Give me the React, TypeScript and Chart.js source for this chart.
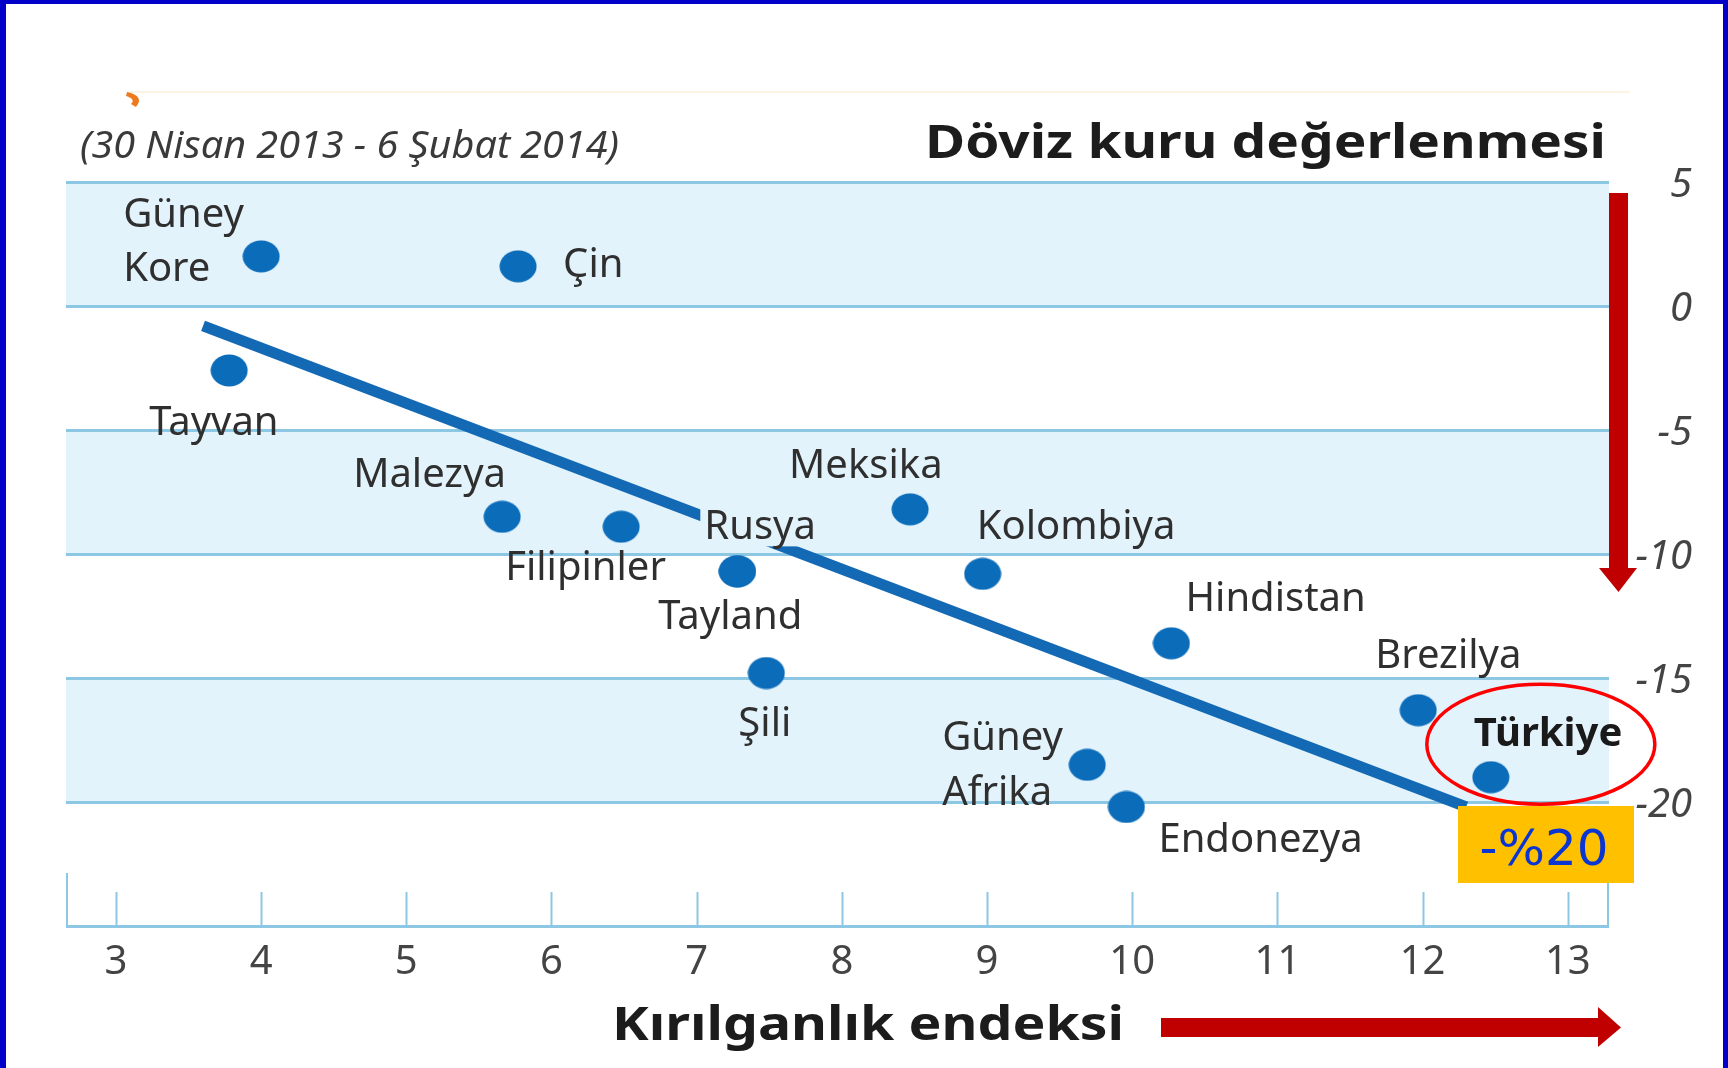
import React, { useEffect, useRef } from 'react';
import { Chart, registerables } from 'chart.js';

Chart.register(...registerables);

// ---------------- DATA ----------------
const countries = [
  'Güney Kore', 'Çin', 'Tayvan', 'Malezya', 'Filipinler', 'Rusya', 'Tayland', 'Şili',
  'Meksika', 'Kolombiya', 'Hindistan', 'Brezilya', 'Türkiye', 'Güney Afrika', 'Endonezya',
];
// Kırılganlık endeksi (x)
const vulnerabilityIndex = [4.0, 5.77, 3.78, 5.66, 6.48, 7.28, 7.28, 7.48, 8.47, 8.97, 10.27, 11.97, 12.47, 9.69, 9.96];
// Döviz kuru değerlenmesi, % (y)
const currencyChange = [2.0, 1.6, -2.6, -8.5, -8.9, -10.7, -10.7, -14.8, -8.2, -10.8, -13.6, -16.3, -19.0, -18.5, -20.2];

const trendX = [3.6, 12.3];
const trendY = [-0.8, -20.2];

const xTicks = [3, 4, 5, 6, 7, 8, 9, 10, 11, 12, 13];
const yTicks = [5, 0, -5, -10, -15, -20, -25];

const titleText = 'Döviz kuru değerlenmesi';
const subtitleText = '(30 Nisan 2013 - 6 Şubat 2014)';
const xTitleText = 'Kırılganlık endeksi';
const highlightCountry = 'Türkiye';
const highlightText = '-%20';

// ---------------- STYLE / LAYOUT ----------------
const W = 1728;
const H = 1068;
const X_MIN = 2.656;
const X_MAX = 13.284;
const Y_MIN = -25;
const Y_MAX = 5;

const BAND = '#e3f3fb';
const GRID = '#8cc8e4';
const POINT = '#0b6cb9';
const TREND = '#1469b4';
const TEXT = '#2f2f2f';
const RED = '#c00000';
const FONT = '"Noto Sans", "Open Sans", sans-serif';

// label placement relative to each point's pixel position
const labelLayout: Record<string, { lines: string[]; dx: number; dy: number; gap?: number; bold?: boolean; patch?: boolean }> = {
  'Güney Kore': { lines: ['Güney', 'Kore'], dx: -138, dy: -29, gap: 54 },
  'Çin': { lines: ['Çin'], dx: 45, dy: 11 },
  'Tayvan': { lines: ['Tayvan'], dx: -80, dy: 65 },
  'Malezya': { lines: ['Malezya'], dx: -149, dy: -30 },
  'Filipinler': { lines: ['Filipinler'], dx: -116, dy: 53 },
  'Rusya': { lines: ['Rusya'], dx: -33, dy: -32, patch: true },
  'Tayland': { lines: ['Tayland'], dx: -79, dy: 58 },
  'Şili': { lines: ['Şili'], dx: -28, dy: 63 },
  'Meksika': { lines: ['Meksika'], dx: -121, dy: -31 },
  'Kolombiya': { lines: ['Kolombiya'], dx: -6, dy: -35 },
  'Hindistan': { lines: ['Hindistan'], dx: 14, dy: -32 },
  'Brezilya': { lines: ['Brezilya'], dx: -43, dy: -42 },
  'Türkiye': { lines: ['Türkiye'], dx: -17, dy: -31, bold: true },
  'Güney Afrika': { lines: ['Güney', 'Afrika'], dx: -145, dy: -15, gap: 55 },
  'Endonezya': { lines: ['Endonezya'], dx: 32, dy: 45 },
};

function drawText(
  ctx: CanvasRenderingContext2D, text: string, x: number, y: number, font: string,
  color: string, align: CanvasTextAlign = 'left', targetWidth?: number,
) {
  ctx.save();
  ctx.font = font;
  ctx.fillStyle = color;
  ctx.textBaseline = 'alphabetic';
  ctx.textAlign = align;
  const w = ctx.measureText(text).width;
  const sx = targetWidth ? targetWidth / w : 1;
  ctx.translate(x, y);
  ctx.scale(sx, 1);
  ctx.fillText(text, 0, 0);
  ctx.restore();
}

function makeDot(): HTMLCanvasElement {
  const c = document.createElement('canvas');
  c.width = 38;
  c.height = 33;
  const g = c.getContext('2d')!;
  g.fillStyle = POINT;
  g.beginPath();
  g.ellipse(19, 16.5, 18.5, 16, 0, 0, Math.PI * 2);
  g.fill();
  return c;
}

const decorPlugin = {
  id: 'decor',
  beforeDraw(chart: any) {
    const { ctx, chartArea, scales } = chart;
    const y = scales.y;
    ctx.save();
    ctx.fillStyle = '#ffffff';
    ctx.fillRect(0, 0, W, H);
    // alternating bands between gridlines
    ctx.fillStyle = BAND;
    for (let i = 0; i + 1 < yTicks.length - 1; i += 2) {
      const top = y.getPixelForValue(yTicks[i]);
      const bot = y.getPixelForValue(yTicks[i + 1]);
      ctx.fillRect(chartArea.left, top, chartArea.right - chartArea.left, bot - top);
    }
    // faint rule at top
    ctx.fillStyle = '#fdf3e2';
    ctx.fillRect(130, 91, 1500, 2);
    // small orange mark
    ctx.fillStyle = '#ee7a20';
    ctx.beginPath();
    ctx.moveTo(127, 92);
    ctx.quadraticCurveTo(145, 96, 136, 107);
    ctx.lineTo(131, 104);
    ctx.quadraticCurveTo(136, 99, 126, 96);
    ctx.closePath();
    ctx.fill();
    ctx.restore();
  },
  afterDatasetsDraw(chart: any) {
    const { ctx, chartArea, scales } = chart;
    const xs = scales.x;
    const ys = scales.y;
    const base = ys.getPixelForValue(Y_MIN);
    ctx.save();
    // x tick marks pointing up
    ctx.strokeStyle = GRID;
    ctx.lineWidth = 2;
    ctx.beginPath();
    xTicks.forEach((v) => {
      const px = Math.round(xs.getPixelForValue(v)) + 0.5;
      ctx.moveTo(px, base);
      ctx.lineTo(px, base - 34);
    });
    ctx.moveTo(chartArea.left + 1, base);
    ctx.lineTo(chartArea.left + 1, base - 53);
    ctx.moveTo(chartArea.right - 1, base);
    ctx.lineTo(chartArea.right - 1, base - 43);
    ctx.stroke();

    // point labels
    const labelFont = `40px ${FONT}`;
    const boldFont = `bold 40px ${FONT}`;
    let turkPx = 0;
    let turkPy = 0;
    countries.forEach((name, i) => {
      const px = xs.getPixelForValue(vulnerabilityIndex[i]);
      const py = ys.getPixelForValue(currencyChange[i]);
      if (name === highlightCountry) { turkPx = px; turkPy = py; }
      const L = labelLayout[name];
      if (!L) return;
      const f = L.bold ? boldFont : labelFont;
      L.lines.forEach((line, k) => {
        const tx = px + L.dx;
        const ty = py + L.dy + k * (L.gap || 50);
        if (L.patch) {
          ctx.font = f;
          const w = ctx.measureText(line).width;
          ctx.fillStyle = BAND;
          ctx.fillRect(tx - 4, ty - 31, w + 8, 38);
        }
        drawText(ctx, line, tx, ty, f, L.bold ? '#1a1a1a' : TEXT);
      });
    });

    // titles
    drawText(ctx, titleText, 1606, 158, `bold 46px ${FONT}`, '#1c1c1c', 'right', 681);
    drawText(ctx, subtitleText, 80, 158, `italic 38px ${FONT}`, '#3a3a3a', 'left', 539);
    drawText(ctx, xTitleText, 612, 1040, `bold 46px ${FONT}`, '#1c1c1c', 'left', 512);

    // red ellipse around highlight
    ctx.strokeStyle = '#ff0000';
    ctx.lineWidth = 3.5;
    ctx.beginPath();
    ctx.ellipse(turkPx + 50, turkPy - 33, 114, 60, 0, 0, Math.PI * 2);
    ctx.stroke();

    // orange box
    ctx.fillStyle = '#ffc000';
    ctx.fillRect(1458, 806, 176, 77);
    drawText(ctx, highlightText, 1544, 865, `50px "DejaVu Sans", ${FONT}`, '#0a35d2', 'center', 129);

    // red arrows
    ctx.fillStyle = RED;
    // vertical
    ctx.fillRect(1609, 193, 19, 376);
    ctx.beginPath();
    ctx.moveTo(1599, 568);
    ctx.lineTo(1637, 568);
    ctx.lineTo(1618.5, 592);
    ctx.closePath();
    ctx.fill();
    // horizontal
    ctx.fillRect(1161, 1018, 440, 19);
    ctx.beginPath();
    ctx.moveTo(1598, 1007);
    ctx.lineTo(1621, 1027.5);
    ctx.lineTo(1598, 1047);
    ctx.closePath();
    ctx.fill();

    // blue frame
    ctx.fillStyle = '#0000c8';
    ctx.fillRect(0, 0, W, 4);
    ctx.fillRect(0, 0, 6, H);
    ctx.fillRect(W - 5, 0, 5, H);
    ctx.restore();
  },
};

export default function App() {
  const ref = useRef<HTMLCanvasElement | null>(null);

  useEffect(() => {
    document.body.style.margin = '0';
    document.body.style.overflow = 'hidden';
    const canvas = ref.current;
    if (!canvas) return;
    const points = vulnerabilityIndex.map((x, i) => ({ x, y: currencyChange[i] }));
    const trend = trendX.map((x, i) => ({ x, y: trendY[i] }));
    const dot = makeDot();

    const chart = new Chart(canvas, {
      type: 'scatter',
      data: {
        datasets: [
          {
            label: 'Ülkeler',
            data: points,
            backgroundColor: POINT,
            borderWidth: 0,
            pointStyle: dot,
            pointRadius: 16,
            pointHoverRadius: 16,
          } as any,
          {
            label: 'Eğilim',
            data: trend,
            showLine: true,
            borderColor: TREND,
            borderWidth: 11,
            pointRadius: 0,
            borderCapStyle: 'butt',
          } as any,
        ],
      },
      options: {
        responsive: false,
        animation: false,
        events: [],
        layout: { padding: { left: 66, top: 182, right: 36, bottom: 0 } },
        plugins: {
          legend: { display: false },
          tooltip: { enabled: false },
          title: { display: false },
        },
        scales: {
          x: {
            type: 'linear',
            position: 'bottom',
            min: X_MIN,
            max: X_MAX,
            afterBuildTicks: (axis: any) => { axis.ticks = xTicks.map((v) => ({ value: v })); },
            afterFit: (axis: any) => { axis.height = H - 926; },
            grid: { display: false, drawTicks: false },
            border: { display: false },
            ticks: {
              padding: 13,
              color: '#444',
              font: { family: FONT, size: 40 },
              callback: (v: any) => String(v),
            },
          },
          y: {
            type: 'linear',
            position: 'right',
            min: Y_MIN,
            max: Y_MAX,
            afterBuildTicks: (axis: any) => { axis.ticks = yTicks.map((v) => ({ value: v })); },
            afterFit: (axis: any) => { axis.width = W - 36 - 1609; },
            grid: { color: GRID, lineWidth: 3, drawTicks: false },
            border: { display: false },
            ticks: {
              padding: 25,
              crossAlign: 'far',
              labelOffset: 4,
              color: '#444',
              font: { family: FONT, size: 40, style: 'italic' },
              callback: (v: any) => (v === Y_MIN ? '' : String(v)),
            },
          },
        },
      },
      plugins: [decorPlugin],
    });
    return () => chart.destroy();
  }, []);

  return (
    <div style={{ width: W, height: H, position: 'relative', background: '#fff' }}>
      <canvas ref={ref} width={W} height={H} style={{ display: 'block', width: W, height: H }} />
    </div>
  );
}
